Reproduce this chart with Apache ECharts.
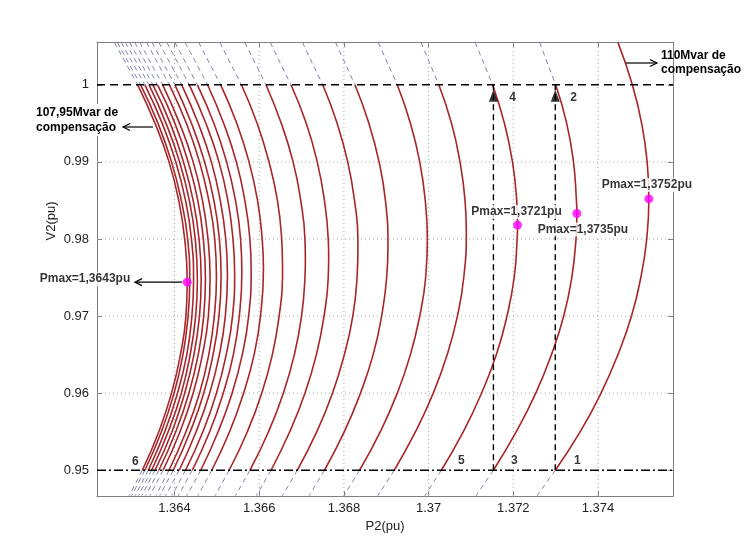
<!DOCTYPE html>
<html><head><meta charset="utf-8">
<script src="https://cdn.jsdelivr.net/npm/echarts@6/dist/echarts.min.js"></script>
<style>html,body{margin:0;padding:0;background:#fff}#c{width:744px;height:558px}</style>
</head><body><div id="c"></div>
<script>
// ---------------- data ----------------
const vLevels = [1.0055, 1.0, 0.995, 0.99, 0.985, 0.98, 0.975, 0.97, 0.965, 0.96, 0.955, 0.95, 0.9467];
// P2 (pu) of each curve at the V levels above (left-most = 107,95 Mvar ... right-most = 110 Mvar)
const curveP = [
 [1.36258,1.36313,1.36354,1.36387,1.36410,1.36424,1.36430,1.36427,1.36414,1.36393,1.36363,1.36324,1.36293],
 [1.36265,1.36320,1.36361,1.36393,1.36416,1.36431,1.36436,1.36432,1.36420,1.36399,1.36369,1.36330,1.36299],
 [1.36274,1.36330,1.36371,1.36403,1.36426,1.36440,1.36445,1.36441,1.36429,1.36407,1.36377,1.36338,1.36307],
 [1.36284,1.36340,1.36380,1.36412,1.36435,1.36449,1.36454,1.36450,1.36437,1.36416,1.36385,1.36346,1.36315],
 [1.36294,1.36349,1.36390,1.36421,1.36444,1.36458,1.36463,1.36459,1.36446,1.36424,1.36394,1.36354,1.36323],
 [1.36306,1.36360,1.36401,1.36432,1.36455,1.36468,1.36473,1.36469,1.36456,1.36434,1.36403,1.36363,1.36332],
 [1.36318,1.36372,1.36412,1.36444,1.36466,1.36479,1.36484,1.36480,1.36466,1.36444,1.36413,1.36373,1.36342],
 [1.36334,1.36388,1.36428,1.36459,1.36481,1.36495,1.36499,1.36494,1.36481,1.36459,1.36427,1.36387,1.36356],
 [1.36347,1.36401,1.36440,1.36471,1.36493,1.36506,1.36510,1.36505,1.36491,1.36469,1.36437,1.36397,1.36365],
 [1.36363,1.36417,1.36456,1.36487,1.36508,1.36521,1.36525,1.36520,1.36506,1.36483,1.36451,1.36411,1.36379],
 [1.36382,1.36435,1.36474,1.36505,1.36526,1.36538,1.36542,1.36537,1.36522,1.36499,1.36467,1.36426,1.36394],
 [1.36401,1.36454,1.36493,1.36523,1.36544,1.36556,1.36559,1.36553,1.36539,1.36515,1.36483,1.36442,1.36409],
 [1.36425,1.36478,1.36516,1.36546,1.36566,1.36578,1.36580,1.36575,1.36560,1.36536,1.36503,1.36462,1.36429],
 [1.36457,1.36509,1.36547,1.36576,1.36596,1.36607,1.36610,1.36603,1.36588,1.36563,1.36530,1.36488,1.36455],
 [1.36507,1.36558,1.36595,1.36623,1.36643,1.36653,1.36655,1.36647,1.36631,1.36606,1.36572,1.36529,1.36496],
 [1.36566,1.36616,1.36652,1.36680,1.36698,1.36708,1.36708,1.36700,1.36683,1.36657,1.36622,1.36578,1.36544],
 [1.36626,1.36675,1.36711,1.36737,1.36754,1.36763,1.36763,1.36753,1.36735,1.36708,1.36672,1.36628,1.36593],
 [1.36702,1.36750,1.36784,1.36809,1.36825,1.36833,1.36831,1.36821,1.36801,1.36773,1.36736,1.36690,1.36655],
 [1.36780,1.36826,1.36859,1.36883,1.36898,1.36904,1.36901,1.36889,1.36869,1.36839,1.36801,1.36754,1.36718],
 [1.36881,1.36926,1.36957,1.36979,1.36992,1.36997,1.36993,1.36979,1.36957,1.36926,1.36886,1.36837,1.36800],
 [1.36982,1.37024,1.37054,1.37074,1.37086,1.37089,1.37083,1.37068,1.37044,1.37011,1.36969,1.36919,1.36880],
 [1.37110,1.37151,1.37179,1.37198,1.37208,1.37209,1.37202,1.37185,1.37160,1.37125,1.37082,1.37030,1.36991],
 [1.37262,1.37300,1.37326,1.37342,1.37349,1.37348,1.37338,1.37319,1.37290,1.37253,1.37207,1.37153,1.37112],
 [1.37447,1.37481,1.37503,1.37516,1.37520,1.37515,1.37501,1.37479,1.37447,1.37407,1.37358,1.37299,1.37256]
];
// nose of each curve
const curvePmax = [1.36430,1.36436,1.36445,1.36454,1.36463,1.36473,1.36484,1.36499,1.36510,1.36525,1.36542,1.36559,1.36581,1.36610,1.36655,1.36709,1.36764,1.36833,1.36904,1.36997,1.37089,1.37210,1.37350,1.37520];
const curveVn   = [0.97440,0.97446,0.97455,0.97464,0.97473,0.97483,0.97494,0.97508,0.97520,0.97534,0.97552,0.97569,0.97591,0.97618,0.97663,0.97715,0.97769,0.97836,0.97906,0.97996,0.98094,0.98180,0.98330,0.98520];
const pmaxIdx    = [0, 21, 22, 23];
const pmaxLabels = ['Pmax=1,3643pu', 'Pmax=1,3721pu', 'Pmax=1,3735pu', 'Pmax=1,3752pu'];
// iteration steps: [curve index, V level index]
const stepLabels = ['1', '2', '3', '4', '5', '6'];
const stepPoints = [[23, 11], [22, 1], [22, 11], [21, 1], [21, 11], [0, 11]];
const arrowFrom  = [[23, 11], [22, 11]];
const fullRedIdx = 23;
const vUpper = 1.0, vLower = 0.95;
const xTicks = [1.364, 1.366, 1.368, 1.37, 1.372, 1.374];
const yTicks = [0.95, 0.96, 0.97, 0.98, 0.99, 1];
const xRange = [1.36217, 1.37577];
const yRange = [0.94666, 1.00555];

// ---------------- chart ----------------
const FONT = '"Liberation Sans", Arial, Helvetica, sans-serif';
const RED = '#a8262a', DASHC = '#7c86ad', AXC = '#808080';
const fmt = v => String(+(+v).toFixed(4));
const iTop = 0, iUp = 1, iLow = 11, iBot = 12;

function pts(i, vTop, vBot) {
  const out = [];
  vLevels.forEach((v, k) => {
    if (v <= vTop + 1e-9 && v >= vBot - 1e-9 && Math.abs(v - curveVn[i]) > 0.0015) out.push([curveP[i][k], v]);
  });
  if (curveVn[i] <= vTop && curveVn[i] >= vBot) out.push([curvePmax[i], curveVn[i]]);
  out.sort((a, b) => b[1] - a[1]);
  return out;
}

const series = [];
const base = {type: 'line', symbol: 'none', silent: true, animation: false};
// dotted grid
xTicks.forEach(t => series.push(Object.assign({}, base, {data: [[t, yRange[0]], [t, yRange[1]]], z: 1,
  lineStyle: {color: '#a8a8a8', width: 1, type: [1, 3]}})));
yTicks.filter(t => t !== vUpper && t !== vLower).forEach(t => series.push(Object.assign({}, base, {
  data: [[xRange[0], t], [xRange[1], t]], z: 1, lineStyle: {color: '#a8a8a8', width: 1, type: [1, 3]}})));
// dashed extensions outside [0.95, 1]
curveP.forEach((row, i) => {
  if (i !== fullRedIdx) series.push(Object.assign({}, base, {data: [[row[iTop], vLevels[iTop]], [row[iUp], vLevels[iUp]]], z: 2,
    lineStyle: {color: DASHC, width: 1, type: [5, 4]}}));
  series.push(Object.assign({}, base, {data: [[row[iLow], vLevels[iLow]], [row[iBot], vLevels[iBot]]], z: 2,
    lineStyle: {color: DASHC, width: 1, type: [5, 4]}}));
});
// red solid curves
curveP.forEach((row, i) => {
  const top = i === fullRedIdx ? vLevels[iTop] : vUpper;
  series.push(Object.assign({}, base, {data: pts(i, top, vLower), smooth: 0.5, z: 3,
    lineStyle: {color: RED, width: 1.6}}));
});
// V = 1 dashed and V = 0.95 dash-dot lines
series.push(Object.assign({}, base, {data: [[xRange[0], vUpper], [xRange[1], vUpper]], z: 4,
  lineStyle: {color: '#000', width: 1.4, type: [8, 5]}}));
series.push(Object.assign({}, base, {data: [[xRange[0], vLower], [xRange[1], vLower]], z: 4,
  lineStyle: {color: '#000', width: 1.4, type: [9, 3, 2, 3]}}));
// vertical iteration arrows
arrowFrom.forEach(([i, k]) => series.push(Object.assign({}, base, {data: [[curveP[i][k], vLower], [curveP[i][k], vUpper]], z: 5,
  lineStyle: {color: '#000', width: 1.4, type: [6, 4]}})));
series.push({type: 'scatter', silent: true, animation: false, z: 6, symbol: 'triangle', symbolSize: [9, 12], symbolOffset: [0, 11],
  itemStyle: {color: '#000'}, data: arrowFrom.map(([i, k]) => [curveP[i][k], vUpper])});
// step labels 1..6
const stepOff = [[22, -10], [18, 13], [21, -10], [20, 13], [20, -10], [-7, -9]];
series.push({type: 'scatter', silent: true, animation: false, z: 7, symbol: 'circle', symbolSize: 0.1,
  itemStyle: {color: 'rgba(0,0,0,0)'},
  data: stepPoints.map(([i, k], n) => ({value: [curveP[i][k], vLevels[k]],
    label: {show: true, position: 'inside', offset: stepOff[n], formatter: stepLabels[n],
      color: '#000', fontWeight: 'bold', fontSize: 12, fontFamily: FONT}}))});
// Pmax dots
const pOff = [[-56, -3, 'right'], [-1, -13, 'center'], [6, 16, 'center'], [-2, -14, 'center']];
series.push({type: 'scatter', silent: true, animation: false, z: 8, symbol: 'circle', symbolSize: 9,
  itemStyle: {color: '#ff00ff'},
  data: pmaxIdx.map((i, n) => ({value: [curvePmax[i], curveVn[i]],
    label: {show: true, position: 'inside', offset: [pOff[n][0], pOff[n][1]], align: pOff[n][2],
      formatter: pmaxLabels[n], color: '#000', fontWeight: 'bold', fontSize: 12, fontFamily: FONT,
      backgroundColor: '#fff', padding: [1, 1]}}))});

const axisLabelStyle = {fontSize: 13, color: '#222', fontFamily: FONT, formatter: fmt};
const option = {
  animation: false,
  backgroundColor: '#fff',
  grid: {left: 97, right: 71, top: 42, bottom: 62, containLabel: false, outerBoundsMode: 'none'},
  xAxis: [
    {type: 'value', min: xRange[0], max: xRange[1], position: 'bottom',
     axisLine: {show: true, lineStyle: {color: AXC, width: 1}},
     axisTick: {show: true, inside: true, length: 5, customValues: xTicks, lineStyle: {color: AXC}},
     axisLabel: Object.assign({customValues: xTicks, margin: 6}, axisLabelStyle),
     splitLine: {show: false},
     name: 'P2(pu)', nameLocation: 'middle', nameGap: 22,
     nameTextStyle: {fontSize: 13, color: '#222', fontFamily: FONT}},
    {type: 'value', min: xRange[0], max: xRange[1], position: 'top',
     axisLine: {show: true, lineStyle: {color: AXC, width: 1}},
     axisTick: {show: true, inside: true, length: 5, customValues: xTicks, lineStyle: {color: AXC}},
     axisLabel: {show: false}, splitLine: {show: false}}
  ],
  yAxis: [
    {type: 'value', min: yRange[0], max: yRange[1], position: 'left',
     axisLine: {show: true, lineStyle: {color: AXC, width: 1}},
     axisTick: {show: true, inside: true, length: 5, customValues: yTicks, lineStyle: {color: AXC}},
     axisLabel: Object.assign({customValues: yTicks, margin: 8}, axisLabelStyle),
     splitLine: {show: false}},
    {type: 'value', min: yRange[0], max: yRange[1], position: 'right',
     axisLine: {show: true, lineStyle: {color: AXC, width: 1}},
     axisTick: {show: true, inside: true, length: 5, customValues: yTicks, lineStyle: {color: AXC}},
     axisLabel: {show: false}, splitLine: {show: false}}
  ],
  series: series
};
const chart = echarts.init(document.getElementById('c'), null, {renderer: 'canvas'});
chart.setOption(option);

// annotations
const dot = chart.convertToPixel({xAxisIndex: 0, yAxisIndex: 0}, [curvePmax[0], curveVn[0]]);
const bold = 'bold 12px ' + FONT;
function arrow(x1, y, x2) { // line from x1 to x2, open head at x2
  const d = x2 < x1 ? 7 : -7;
  return [
    {type: 'line', silent: true, z: 100, shape: {x1: x1, y1: y, x2: x2, y2: y}, style: {stroke: '#000', lineWidth: 1.2}},
    {type: 'polyline', silent: true, z: 100, shape: {points: [[x2 + d, y - 3.5], [x2, y], [x2 + d, y + 3.5]]},
     style: {stroke: '#000', lineWidth: 1.2, fill: null}}
  ];
}
const graphic = [
  {type: 'text', silent: true, z: 100, x: 51, y: 221, rotation: Math.PI / 2,
   style: {text: 'V2(pu)', font: '13px ' + FONT, fill: '#222', align: 'center', verticalAlign: 'middle'}},
  {type: 'text', silent: true, z: 100, x: 36, y: 120,
   style: {text: '107,95Mvar de\ncompensação', font: bold, fill: '#000', align: 'left', verticalAlign: 'middle',
     lineHeight: 15, backgroundColor: '#fff', padding: [1, 2, 1, 0]}},
  {type: 'text', silent: true, z: 100, x: 661, y: 63,
   style: {text: '110Mvar de\ncompensação', font: bold, fill: '#000', align: 'left', verticalAlign: 'middle', lineHeight: 14}}
].concat(arrow(dot[0] - 5, dot[1], 135), arrow(153, 127, 123), arrow(626, 63, 657));
chart.setOption({graphic: graphic});
</script>
</body></html>
